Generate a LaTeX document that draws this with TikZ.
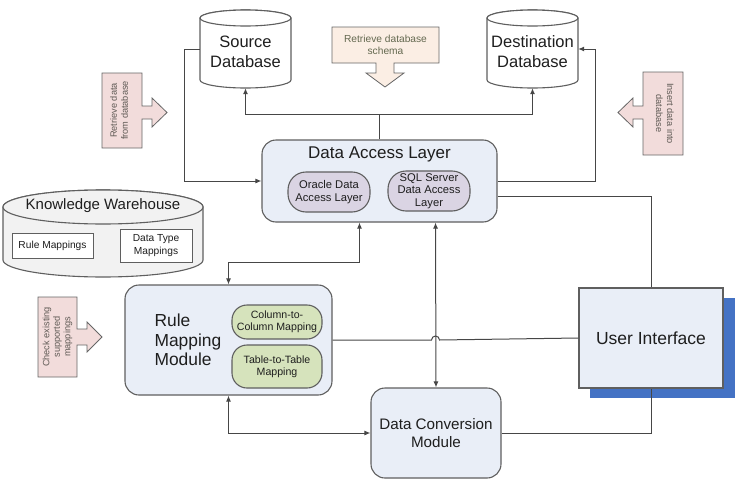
\documentclass[tikz,border=0pt]{standalone}
\usepackage{fontspec}
\setmainfont{Liberation Sans}
\usetikzlibrary{arrows.meta,calc}
\definecolor{bordc}{RGB}{95,95,95}
\definecolor{linec}{RGB}{70,70,70}
\definecolor{boxfill}{RGB}{233,238,247}
\definecolor{purplefill}{RGB}{218,212,227}
\definecolor{greenfill}{RGB}{214,227,188}
\definecolor{pinkfill}{RGB}{242,220,219}
\definecolor{beigefill}{RGB}{251,238,228}
\definecolor{shadowblue}{RGB}{68,114,196}
\definecolor{txtc}{RGB}{30,30,30}
\definecolor{arrtxt}{RGB}{95,90,85}
\definecolor{schtxt}{RGB}{100,105,80}
\definecolor{kwfill}{RGB}{242,242,242}
\newcommand{\myfs}[2]{\fontsize{#1}{#2}\selectfont}
\tikzset{
  box/.style={draw=bordc, line width=1.1pt, fill=boxfill, rounded corners=14pt, inner sep=0pt, align=center, text=txtc},
  pill/.style={draw=bordc, line width=1.1pt, inner sep=0pt, align=center, text=txtc},
  plainbox/.style={draw=bordc, line width=1pt, fill=white, inner sep=0pt, align=center, text=txtc},
  conn/.style={draw=linec, line width=1pt},
  tip/.tip={Latex[length=6pt,width=5pt]},
  blockarrow/.style={draw=gray!80!black, line width=0.8pt},
  hidden/.style={inner sep=0pt, draw=none},
  dbtxt/.style={align=center, text=txtc, font=\myfs{16.5}{20}},
}
\begin{document}
\begin{tikzpicture}[x=1pt,y=-1pt]
\useasboundingbox (0,0) rectangle (742,482);

% ---------- Source database cylinder ----------
\path[fill=white,draw=bordc,line width=1.1pt] (200,18) -- (200,80)
  arc[start angle=180,end angle=360,x radius=45.5pt,y radius=8pt] -- (291,18)
  arc[start angle=0,end angle=180,x radius=45.5pt,y radius=8pt] -- cycle;
\draw[bordc,line width=1.1pt,fill=white] (245.5,18) ellipse[x radius=45.5pt,y radius=8pt];
\node[hidden, minimum width=91pt, minimum height=78pt] (src) at (245.5,49) {};
\node[dbtxt] (srct) at (245.5,52) {Source\\Database};

% ---------- Destination database cylinder ----------
\path[fill=white,draw=bordc,line width=1.1pt] (487,18) -- (487,80)
  arc[start angle=180,end angle=360,x radius=45.5pt,y radius=8pt] -- (578,18)
  arc[start angle=0,end angle=180,x radius=45.5pt,y radius=8pt] -- cycle;
\draw[bordc,line width=1.1pt,fill=white] (532.5,18) ellipse[x radius=45.5pt,y radius=8pt];
\node[hidden, minimum width=91pt, minimum height=78pt] (dst) at (532.5,49) {};
\node[dbtxt] (dstt) at (532.5,52) {Destination\\Database};

% ---------- Knowledge warehouse cylinder ----------
\path[fill=kwfill,draw=bordc,line width=1.1pt] (3,207) -- (3,260)
  arc[start angle=180,end angle=360,x radius=100pt,y radius=17pt] -- (203,207)
  arc[start angle=0,end angle=180,x radius=100pt,y radius=17pt] -- cycle;
\draw[bordc,line width=1.1pt,fill=kwfill] (103,207) ellipse[x radius=100pt,y radius=17pt];
\node[hidden, minimum width=200pt, minimum height=87pt] (kw) at (103,233.5) {};
\node[text=txtc, font=\myfs{15}{18}] (kwt) at (103,206) {Knowledge Warehouse};
\node[plainbox, minimum width=81pt, minimum height=25pt, font=\myfs{10.2}{12}] (rulemap) at (52.5,245.5) {Rule Mappings};
\node[plainbox, minimum width=72pt, minimum height=33pt, font=\myfs{10.2}{12.5}] (dtmap) at (156,245.5) {Data Type\\Mappings};

% ---------- Block arrows ----------
\path[blockarrow, fill=beigefill] (332,27) -- (439,27) -- (439,63) -- (394,63) -- (394,73) -- (404,73)
  -- (385,87) -- (366,73) -- (376,73) -- (376,63) -- (332,63) -- cycle;
\node[text=schtxt, align=center, font=\myfs{10.2}{12.5}] (schema) at (385.5,45) {Retrieve database\\schema};

\path[blockarrow, fill=pinkfill] (102,73) -- (142,73) -- (142,106) -- (152,106) -- (152,98) -- (167,112.5)
  -- (152,127) -- (152,119) -- (142,119) -- (142,148) -- (102,148) -- cycle;
\node[text=arrtxt, align=center, rotate=90, font=\myfs{9.2}{11}] (retr) at (119,110.5) {Retrieve data\\from database};

\path[blockarrow, fill=pinkfill] (683,72) -- (643,72) -- (643,106) -- (633,106) -- (633,98) -- (618,112.5)
  -- (633,127) -- (633,119) -- (643,119) -- (643,155) -- (683,155) -- cycle;
\node[text=arrtxt, align=center, rotate=-90, font=\myfs{9.2}{11}] (ins) at (665,113.5) {Insert data into\\database};

\path[blockarrow, fill=pinkfill] (38,297) -- (77,297) -- (77,329) -- (87,329) -- (87,322) -- (102,337)
  -- (87,352) -- (87,345) -- (77,345) -- (77,377) -- (38,377) -- cycle;
\node[text=arrtxt, align=center, rotate=90, font=\myfs{9.2}{10.5}] (chk) at (57.5,337) {Check existing\\supported\\mappings};

% ---------- Data Access Layer ----------
\node[box, minimum width=235pt, minimum height=82pt] (dal) at (379.5,181) {};
\node[text=txtc, font=\myfs{17}{20}] (dalt) at (379.5,154) {Data Access Layer};
\node[pill, fill=purplefill, rounded corners=18pt, minimum width=82pt, minimum height=40pt, font=\myfs{11.2}{13}] (ora) at (329,192) {Oracle Data\\Access Layer};
\node[pill, fill=purplefill, rounded corners=18pt, minimum width=82pt, minimum height=40pt, font=\myfs{11.2}{12.5}] (sql) at (429,191) {SQL Server\\Data Access\\Layer};

% ---------- Rule Mapping Module ----------
\node[box, minimum width=207pt, minimum height=110pt] (rmm) at (228.5,340) {};
\node[text=txtc, align=left, anchor=west, font=\myfs{17.4}{19.5}] (rmmt) at (151,340) {Rule\\Mapping\\Module};
\node[pill, fill=greenfill, rounded corners=15pt, minimum width=90pt, minimum height=34pt, font=\myfs{10.6}{12}] (colmap) at (277,322) {Column-to-\\Column Mapping};
\node[pill, fill=greenfill, rounded corners=15pt, minimum width=90pt, minimum height=43pt, font=\myfs{10.6}{12}] (tabmap) at (277,366.5) {Table-to-Table\\Mapping};

% ---------- Data Conversion Module ----------
\node[box, minimum width=130pt, minimum height=90pt, font=\myfs{15.2}{18}] (dcm) at (436,433) {Data Conversion\\Module};

% ---------- User Interface ----------
\fill[shadowblue] (590,298) rectangle (735,398);
\node[draw=bordc, line width=1.1pt, fill=boxfill, minimum width=144pt, minimum height=100pt, inner sep=0pt, text=txtc, font=\myfs{17.5}{20}] (ui) at (651,338) {User Interface};

% ---------- Connectors ----------
\draw[conn] (dal.north) -- ++(0,-25) coordinate (j1);
\draw[conn,-tip] (j1) -| (src.south);
\draw[conn,-tip] (j1) -| (dst.south);
\draw[conn,-tip] (src.west) -- ++(-15,0) |- (dal.west);
\draw[conn,-tip] (dal.east) -- ++(98,0) |- (dst.east);
\draw[conn] ([yshift=-15pt]dal.east) -| (ui.north);
\draw[conn,tip-tip] ([xshift=-20pt]dal.south) -- ++(0,40) -| (rmm.north);
\draw[conn,tip-tip] ([xshift=56pt]dal.south) -- (dcm.north);
\coordinate (hop) at ([xshift=56pt]dal.south |- rmm.east);
\draw[conn] (rmm.east) -- ($(hop)+(-4,0)$) arc[start angle=180,end angle=0,radius=4pt] -- (ui.west);
\draw[conn,tip-tip] (rmm.south) |- (dcm.west);
\draw[conn] (dcm.east) -| (ui.south);
\end{tikzpicture}
\end{document}
